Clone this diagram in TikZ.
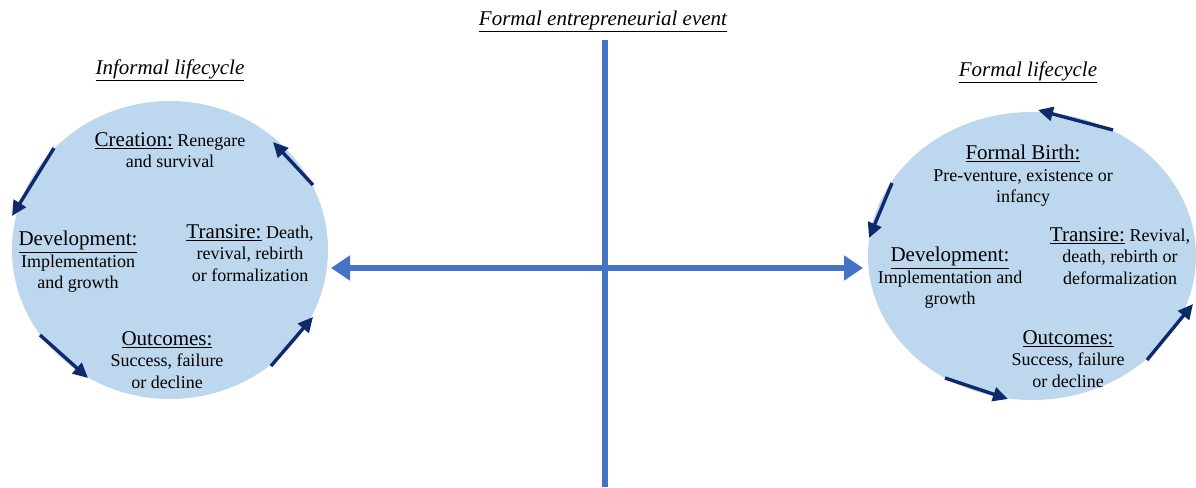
\documentclass[tikz,border=0pt]{standalone}
\usepackage{fontspec}
\setmainfont{Liberation Serif}
\usetikzlibrary{arrows.meta,shapes.geometric}
\definecolor{cfill}{HTML}{BDD7EE}
\definecolor{axisblue}{HTML}{4472C4}
\definecolor{navy}{HTML}{0E2A6B}
\newcommand{\hd}[1]{{\fontsize{21}{21.5}\selectfont\underline{#1}}}
\tikzset{
  lifecycle/.style={ellipse, fill=cfill, draw=none, inner sep=0},
  body/.style={align=center, inner sep=0, font=\fontsize{18}{21.5}\selectfont},
  ttl/.style={inner sep=0, font=\fontsize{21}{24}\selectfont\itshape},
  cyc/.style={draw=navy, line width=3.4pt, -{Triangle[length=15pt,width=14pt]}},
  axis/.style={draw=axisblue, line width=5.5pt},
}
\begin{document}
\begin{tikzpicture}[x=1pt,y=-1pt]
\useasboundingbox (0,0) rectangle (1196,487);
% circles
\node[lifecycle, minimum width=316pt, minimum height=298pt] (L) at (170,250) {};
\node[lifecycle, minimum width=328pt, minimum height=288pt] (R) at (1032,256) {};
% axes
\coordinate (vtop) at (605,40);
\coordinate (vbot) at (605,487);
\coordinate (hl) at (331,268);
\coordinate (hr) at (863,268);
\draw[axis] (vtop) -- (vbot);
\draw[axis, {Triangle[length=19pt,width=24pt]}-{Triangle[length=19pt,width=24pt]}] (hl) -- (hr);
% titles
\node[ttl] (t0) at (603,21) {\underline{Formal entrepreneurial event}};
\node[ttl] (t1) at (170,70) {\underline{Informal lifecycle}};
\node[ttl] (t2) at (1028,72) {\underline{Formal lifecycle}};
% left texts
\node[body] (lc) at (170,150) {\hd{Creation:} Renegare\\and survival};
\node[body] (ld) at (78,262) {\hd{Development:}\\Implementation\\and growth};
\node[body] (lt) at (250,253) {\hd{Transire:} Death,\\revival, rebirth\\or formalization};
\node[body] (lo) at (167,360) {\hd{Outcomes:}\\Success, failure\\or decline};
% right texts
\node[body] (rb) at (1023,176) {\hd{Formal Birth:}\\Pre-venture, existence or\\infancy};
\node[body] (rd) at (950,278) {\hd{Development:}\\Implementation and\\growth};
\node[body] (rt) at (1120,256) {\hd{Transire:} Revival,\\death, rebirth or\\deformalization};
\node[body] (ro) at (1068,359) {\hd{Outcomes:}\\Success, failure\\or decline};
% left cycle arrows
\coordinate (la1) at (54,148); \coordinate (lb1) at (12,216);
\coordinate (la2) at (40,335); \coordinate (lb2) at (88,378);
\coordinate (la3) at (271,366); \coordinate (lb3) at (313,317);
\coordinate (la4) at (313,185); \coordinate (lb4) at (273,142);
\draw[cyc] (la1) -- (lb1);
\draw[cyc] (la2) -- (lb2);
\draw[cyc] (la3) -- (lb3);
\draw[cyc] (la4) -- (lb4);
% right cycle arrows
\coordinate (ra1) at (1113,130); \coordinate (rb1) at (1038,110);
\coordinate (ra2) at (892,183); \coordinate (rb2) at (869,238);
\coordinate (ra3) at (945,378); \coordinate (rb3) at (1008,399);
\coordinate (ra4) at (1147,360); \coordinate (rb4) at (1193,304);
\draw[cyc] (ra1) -- (rb1);
\draw[cyc] (ra2) -- (rb2);
\draw[cyc] (ra3) -- (rb3);
\draw[cyc] (ra4) -- (rb4);
\end{tikzpicture}
\end{document}
